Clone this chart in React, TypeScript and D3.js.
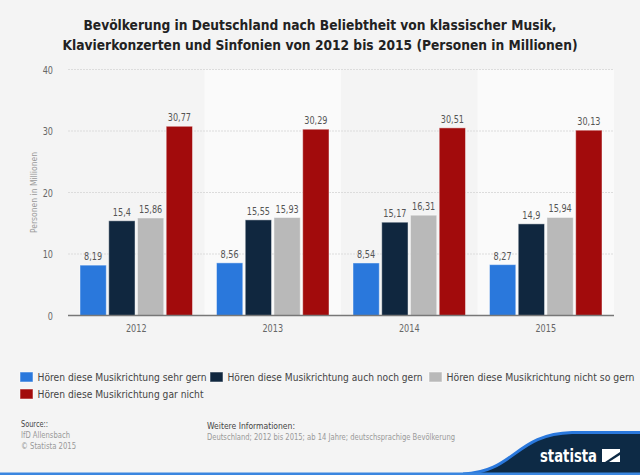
import React from 'react';
import * as d3 from 'd3';

const years = ['2012', '2013', '2014', '2015'];
const seriesNames = [
  'Hören diese Musikrichtung sehr gern',
  'Hören diese Musikrichtung auch noch gern',
  'Hören diese Musikrichtung nicht so gern',
  'Hören diese Musikrichtung gar nicht',
];
const sehrGern = [8.19, 8.56, 8.54, 8.27];
const auchNochGern = [15.4, 15.55, 15.17, 14.9];
const nichtSoGern = [15.86, 15.93, 16.31, 15.94];
const garNicht = [30.77, 30.29, 30.51, 30.13];
const colors = ['#2a78dc', '#10273f', '#b9b9b9', '#a20b0c'];
const yTicks = [0, 10, 20, 30, 40];

const seriesValues = [sehrGern, auchNochGern, nichtSoGern, garNicht];

const W = 640, H = 475;
const left = 68, right = 614, top = 69.5, bottom = 315.5;
const FONT = '"DejaVu Sans Condensed", "DejaVu Sans", sans-serif';
const SX = 0.82;

function ST({ x, y, anchor, size, fill, sx, children }: { x: number; y: number; anchor?: string; size: number; fill: string; sx?: number; children: React.ReactNode }) {
  return (
    <text transform={`translate(${x},${y}) scale(${sx ?? SX},1)`} textAnchor={anchor || 'start'} fontSize={size} fill={fill}>
      {children}
    </text>
  );
}

function LT({ x, y, w, size, fill, bold, children }: { x: number; y: number; w: number; size: number; fill: string; bold?: boolean; children: React.ReactNode }) {
  return (
    <text x={x} y={y} textLength={w} lengthAdjust="spacingAndGlyphs" fontSize={size} fontWeight={bold ? 'bold' : 'normal'} fill={fill}>
      {children}
    </text>
  );
}

export default function App() {
  const x0 = d3.scaleBand<string>().domain(years).range([left, right]).paddingInner(0).paddingOuter(0);
  const bw = x0.bandwidth();
  const x1 = d3.scaleBand<number>().domain([0, 1, 2, 3]).range([12, bw - 12]).paddingInner(0.085).paddingOuter(0);
  const y = d3.scaleLinear().domain([0, 40]).range([bottom, top]);
  const fmt = (v: number) => String(v).replace('.', ',');

  const legendPos = [
    { x: 20, y: 372, w: 169 },
    { x: 210, y: 372, w: 195 },
    { x: 429, y: 372, w: 188 },
    { x: 20, y: 389, w: 166 },
  ];

  return (
    <svg width={W} height={H} style={{ position: 'absolute', left: 0, top: 0, display: 'block' }} fontFamily={FONT}>
      <rect x={0} y={0} width={W} height={H} fill="#f4f4f4" />
      {years.map((yr, i) => (
        <rect key={yr} x={x0(yr)} y={top} width={bw} height={bottom - top} fill={i % 2 === 1 ? '#fafafa' : '#f4f4f4'} />
      ))}
      <LT x={83.5} y={30} w={473} size={14} fill="#222" bold>
        Bevölkerung in Deutschland nach Beliebtheit von klassischer Musik,
      </LT>
      <LT x={62.5} y={50} w={515} size={14} fill="#222" bold>
        Klavierkonzerten und Sinfonien von 2012 bis 2015 (Personen in Millionen)
      </LT>
      {yTicks.map(t => (
        <g key={t}>
          {t > 0 && (
            <line x1={left} x2={right} y1={y(t)} y2={y(t)} stroke="#dcdcdc" strokeWidth={1} strokeDasharray="2,1" />
          )}
          <ST x={53} y={y(t) + 4} anchor="end" size={11} fill="#666">{t}</ST>
        </g>
      ))}
      <text transform={`translate(36.5,192.5) rotate(-90)`} x={-40.5} y={0} textLength={81} lengthAdjust="spacingAndGlyphs" fontSize={9} fill="#999">
        Personen in Millionen
      </text>
      {years.map((yr, i) => (
        <g key={yr}>
          {seriesValues.map((vals, s) => {
            const bx = (x0(yr) as number) + (x1(s) as number);
            const by = y(vals[i]);
            return (
              <g key={s}>
                <rect x={bx} y={by} width={x1.bandwidth()} height={bottom - by} fill={colors[s]} stroke="#ffffff" strokeOpacity={0.45} strokeWidth={1} />
                <ST x={bx + x1.bandwidth() / 2} y={by - 5} anchor="middle" size={11} fill="#555">{fmt(vals[i])}</ST>
              </g>
            );
          })}
          <ST x={(x0(yr) as number) + bw / 2} y={332} anchor="middle" size={11} fill="#666">{yr}</ST>
        </g>
      ))}
      <line x1={left} x2={right} y1={bottom} y2={bottom} stroke="#777" strokeWidth={1.5} />
      {seriesNames.map((n, s) => (
        <g key={n}>
          <rect x={legendPos[s].x} y={legendPos[s].y} width={13} height={10} fill={colors[s]} stroke="#fff" strokeOpacity={0.5} />
          <LT x={legendPos[s].x + 17.5} y={legendPos[s].y + 8.8} w={legendPos[s].w} size={10.5} fill="#444">{n}</LT>
        </g>
      ))}
      <LT x={21} y={427} w={27} size={9} fill="#444">Source::</LT>
      <LT x={21} y={437.5} w={49} size={8.5} fill="#999">IfD Allensbach</LT>
      <LT x={21} y={448.5} w={55} size={8.5} fill="#999">© Statista 2015</LT>
      <LT x={207} y={428.5} w={88} size={9} fill="#444">Weitere Informationen:</LT>
      <LT x={207} y={440} w={248} size={8.5} fill="#999">Deutschland; 2012 bis 2015; ab 14 Jahre; deutschsprachige Bevölkerung</LT>
      <path d="M463,474 C515,472 515,434 572,432.5 L640,432.5 L640,474 Z" fill="#0d2a45" />
      <path d="M463,474 C515,472 515,434 572,432.5 L640,432.5" fill="none" stroke="#2a78dc" strokeWidth={3} />
      <rect x={0} y={472.5} width={640} height={2.5} fill="#3a86e0" />
      <LT x={540} y={462} w={57} size={18} fill="#fff" bold>statista</LT>
      <path d="M602,449 L620,449 L620,452 L605,462 L602,462 Z M620,455 L620,462 L609,462 Z" fill="#fff" />
    </svg>
  );
}
